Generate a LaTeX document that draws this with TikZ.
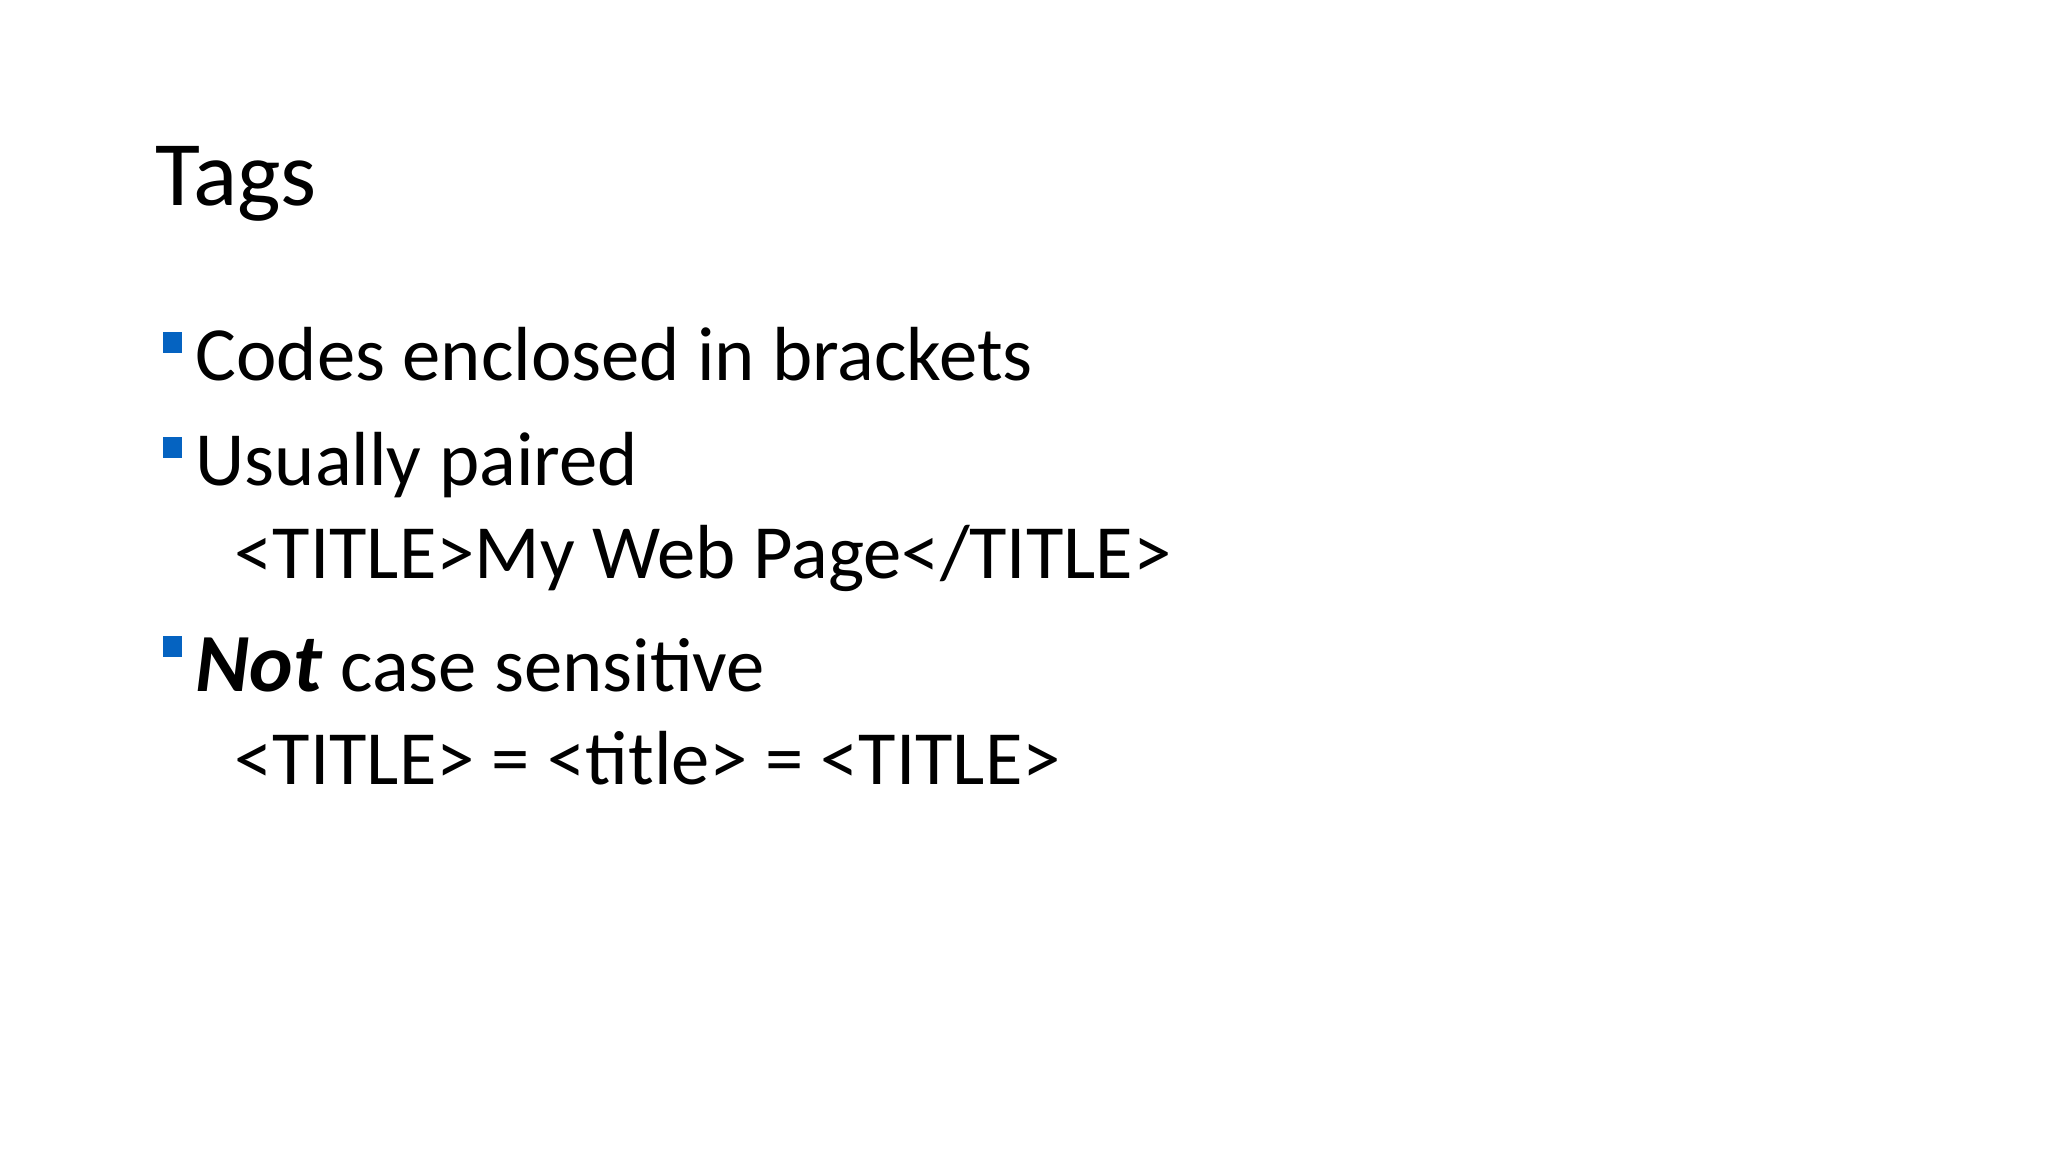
\documentclass[tikz,border=0pt]{standalone}
\usepackage{fontspec}
\setmainfont{Carlito}
\definecolor{bul}{HTML}{0563C1}
\begin{document}
\begin{tikzpicture}[x=0.01cm,y=-0.01cm,
  txt/.style={anchor=base west,inner sep=0pt,font=\fontsize{21.8}{26}\selectfont},
  bsq/.style={fill=bul,draw=none}]
\useasboundingbox (0,0) rectangle (2048,1152);
\node[anchor=base west,inner sep=0pt,font=\fontsize{26.2}{31}\selectfont] (title) at (155,206) {Tags};
\fill[bul] (163,332) rectangle (182,353);
\node[txt] (b1) at (195,381) {Codes enclosed in brackets};
\fill[bul] (163,437) rectangle (182,458);
\node[txt] (b2) at (195,486) {Usually paired};
\node[txt] (s1) at (234,578) {<TITLE>My Web Page</TITLE>};
\fill[bul] (163,636) rectangle (182,657);
\node[txt] (b3) at (195,691) {{\fontsize{23.5}{28}\selectfont\textbf{\textit{Not}}} case sensitive};
\node[txt] (s2) at (234,784) {<TITLE> = <title> = <TITLE>};
\end{tikzpicture}
\end{document}
